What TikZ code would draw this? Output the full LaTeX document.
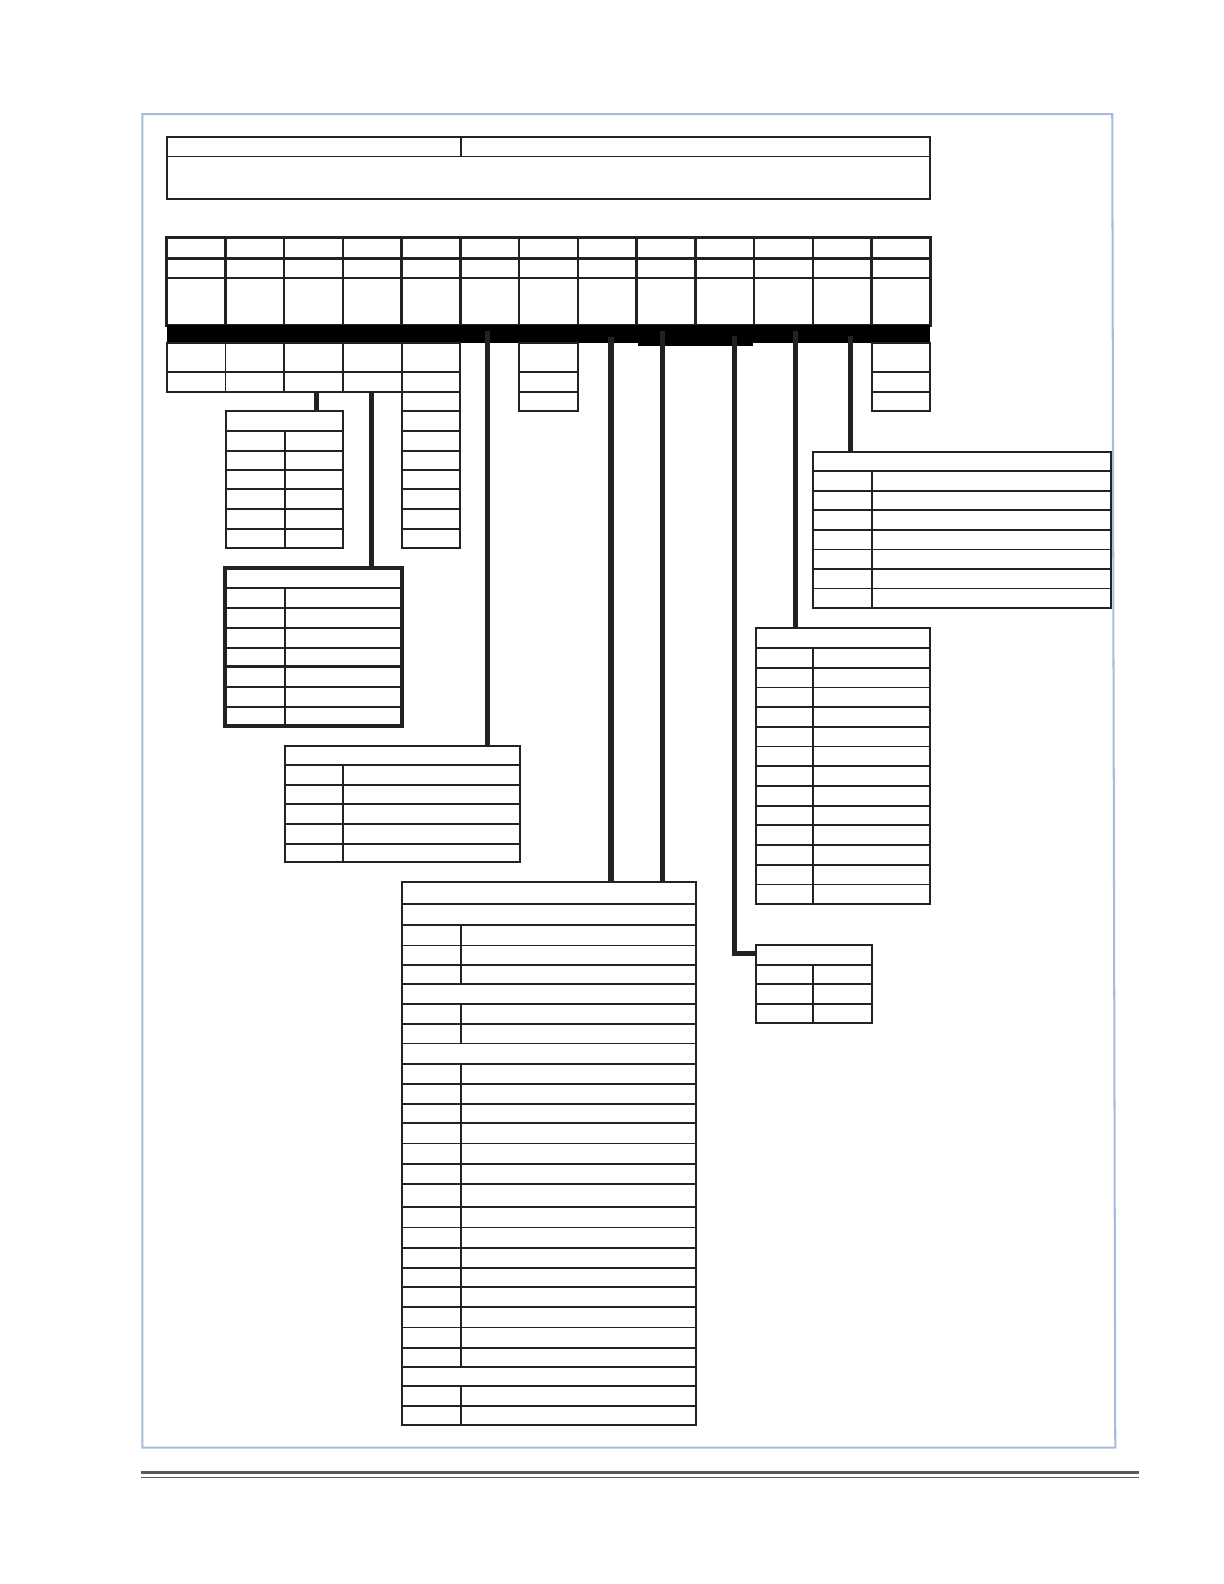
\documentclass[tikz,border=0pt]{standalone}
\begin{document}
\begin{tikzpicture}[x=1pt,y=-1pt]
\definecolor{lc}{RGB}{34,34,34}
\definecolor{fr}{RGB}{168,188,218}
\definecolor{rl}{RGB}{88,88,88}
\tikzset{
 ln/.style={draw=lc, line width=1.8pt},
 lnk/.style={draw=lc, line width=2.4pt},
 tb/.style={draw=lc, line width=2pt, rectangle, inner sep=0pt, outer sep=0pt, anchor=north west},
 tbk/.style={tb, line width=3.8pt},
 conn/.style={draw=lc, line width=5pt, line join=miter},
}
\useasboundingbox (0,0) rectangle (1211.6,1568);
\fill[white] (0,0) rectangle (1211.6,1568);
% page frame
\draw[fr, line width=2pt] (141,113) -- (1101,113) -- (1104,1433) -- (141,1433) -- cycle;
% bottom rule
\draw[rl, line width=3pt] (140,1458) -- (1127,1458);
\draw[rl, line width=1.5pt] (140,1462.5) -- (1127,1462.5);
% header box
\node[tb, minimum width=756pt, minimum height=61pt] (hdr) at (165,136) {};
\draw[ln] (165,155) -- (921,155);
\draw[ln] (456,136) -- (456,155);
% main grid
\node[tb, line width=2.4pt, minimum width=756pt, minimum height=87pt] (grid) at (165,235) {};
\foreach \i in {1,...,12} \draw[lnk] ({165+\i*58.1538},235) -- ({165+\i*58.1538},322);
\draw[lnk] (165,256) -- (921,256);
\draw[lnk] (165,275) -- (921,275);
% black bar
\node[fill=black, draw=none, inner sep=0pt, outer sep=0pt, anchor=north west, minimum width=756pt, minimum height=18pt] (bar) at (165,322) {};
\fill[black] (632,339) rectangle (745,342.5);
% cells under the bar
\node[tb, minimum width=290.8pt, minimum height=47.7pt] (sub) at (165,340) {};
\draw[ln] (165,368) -- (455.8,368);
\foreach \i in {1,...,4} \draw[ln] ({165+\i*58.1538},340) -- ({165+\i*58.1538},387.7);
\node[tb, minimum width=58.2pt, minimum height=202.7pt] (c5) at (397.6,340) {};
\foreach \y in {387.7,406.9,426.6,446.1,465.3,484.4,503.9,523.4} \draw[ln] (397.6,\y) -- (455.8,\y);
\node[tb, minimum width=58.2pt, minimum height=66.8pt] (c7) at (513.9,340) {};
\foreach \y in {368,387.7} \draw[ln] (513.9,\y) -- (572.1,\y);
\node[tb, minimum width=58.2pt, minimum height=66.8pt] (c13) at (862.8,340) {};
\foreach \y in {368,387.7} \draw[ln] (862.8,\y) -- (921,\y);
% T1
\node[tb, minimum width=116.2pt, minimum height=135.9pt] (T1) at (223.5,406.8) {};
\foreach \y in {426.6,446.1,465.3,484.4,503.9,523.4} \draw[ln] (223.5,\y) -- (339.7,\y);
\draw[ln] (282,426.6) -- (282,542.7);
% T2
\node[tbk, minimum width=175.6pt, minimum height=156.4pt] (T2) at (222.7,562) {};
\foreach \y in {581.7,601.9,621.3,641.1,679.8,699.5} \draw[ln] (222.7,\y) -- (398.3,\y);
\draw[draw=lc, line width=3.4pt] (222.7,660) -- (398.3,660);
\draw[ln] (282,581.7) -- (282,718.4);
% T3
\node[tb, minimum width=232.8pt, minimum height=114.8pt] (T3) at (282,738.2) {};
\foreach \y in {757.3,777,796.2,816,835.5} \draw[ln] (282,\y) -- (514.8,\y);
\draw[ln] (339.2,757.3) -- (339.2,853);
% T4
\node[tb, minimum width=291pt, minimum height=537.5pt] (T4) at (398,873.5) {};
\foreach \y in {895,916,936,955,974,994,1014,1033,1053,1073,1093,1112,1132,1152,1172,1195,1215,1235,1255,1274,1294,1314,1334,1353,1372,1392} \draw[ln] (398,\y) -- (689,\y);
\draw[ln] (456,916) -- (456,974);
\draw[ln] (456,994) -- (456,1033);
\draw[ln] (456,1053) -- (456,1353);
\draw[ln] (456,1372) -- (456,1411);
% T5
\node[tb, minimum width=115pt, minimum height=78pt] (T5) at (748,935) {};
\foreach \y in {955,974,994} \draw[ln] (748,\y) -- (863,\y);
\draw[ln] (805,955) -- (805,1013);
% T6
\node[tb, minimum width=173pt, minimum height=273pt] (T6) at (748,622) {};
\foreach \y in {641.5,661,680.5,700,719.5,739,758.5,778,797.5,817,836.5,856,875.5} \draw[ln] (748,\y) -- (921,\y);
\draw[ln] (805,641.5) -- (805,895);
% T7
\node[tb, minimum width=295pt, minimum height=155pt] (T7) at (805,447) {};
\foreach \y in {466.3,485.7,505.1,524.5,543.9,563.2,582.6} \draw[ln] (805,\y) -- (1100,\y);
\draw[ln] (863,466.3) -- (863,602);
% connectors
\coordinate (cA) at (313.6,387.7);
\coordinate (cB) at (368.2,387.7);
\coordinate (cC) at (482.9,327.7);
\coordinate (cD) at (604.8,334);
\coordinate (cE) at (656.2,327.7);
\coordinate (cF) at (726.8,332.6);
\coordinate (cG) at (787.5,327.7);
\coordinate (cH) at (842.2,332.6);
\coordinate (T5in) at (748,944);
\draw[conn] (cA) -- (cA |- T1.north);
\draw[conn] (cB) -- (cB |- T2.north);
\draw[conn] (cC) -- (cC |- T3.north);
\draw[conn] (cD) -- (cD |- T4.north);
\draw[conn] (cE) -- (cE |- T4.north);
\draw[conn] (cF) |- (T5in);
\draw[conn] (cG) -- (cG |- T6.north);
\draw[conn] (cH) -- (cH |- T7.north);
\end{tikzpicture}
\end{document}
